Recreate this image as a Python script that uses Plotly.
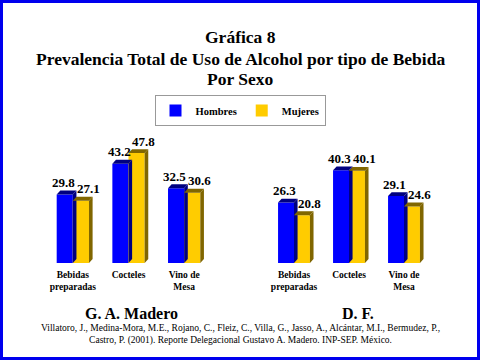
import plotly.graph_objects as go

categories = ["Bebidas<br>preparadas", "Cocteles", "Vino de<br>Mesa"]
madero_hombres = [29.8, 43.2, 32.5]
madero_mujeres = [27.1, 47.8, 30.6]
df_hombres = [26.3, 40.3, 29.1]
df_mujeres = [20.8, 40.1, 24.6]
panel_labels = ["G. A. Madero", "D. F."]
title_lines = ["Gráfica 8", "Prevalencia Total de Uso de Alcohol por tipo de Bebida", "Por Sexo"]

BLUE = "#0000FF"
BLUE_DARK = "#000080"
YEL = "#FFCC00"
YEL_DARK = "#806600"
FONT = "Liberation Serif"

W = 0.29      # bar width in category units
DX = 0.065    # 3D depth in x (category units)
DY = 1.7      # 3D depth in y (data units)

fig = go.Figure()
shapes = []
annotations = []

panels = [
    ("x", "y", madero_hombres, madero_mujeres),
    ("x2", "y2", df_hombres, df_mujeres),
]
for pi, (xa, ya, hom, muj) in enumerate(panels):
    idx = list(range(len(categories)))
    for name, vals, col, dark, off, lab_dx in [("Hombres", hom, BLUE, BLUE_DARK, -W, -0.02),
                                                ("Mujeres", muj, YEL, YEL_DARK, 0.0, 0.13)]:
        fig.add_trace(go.Bar(
            x=idx, y=vals, name=f"<b>{name}</b>", width=W, offset=off,
            marker=dict(color=col, line=dict(width=0)),
            showlegend=(pi == 0),
            xaxis=xa, yaxis=ya, hoverinfo="skip",
        ))
        for i, v in zip(idx, vals):
            x0 = i + off
            x1 = x0 + W
            shapes.append(dict(type="path", xref=xa, yref=ya, layer="above",
                               path=f"M{x1},0 L{x1+DX},{DY} L{x1+DX},{v+DY} L{x1},{v} Z",
                               fillcolor=dark, line=dict(width=0)))
            shapes.append(dict(type="path", xref=xa, yref=ya, layer="above",
                               path=f"M{x0},{v} L{x0+DX},{v+DY} L{x1+DX},{v+DY} L{x1},{v} Z",
                               fillcolor=dark, line=dict(width=0)))
            annotations.append(dict(text=f"<b>{v:.1f}</b>", x=x0 + W/2 + lab_dx, y=v,
                                    xref=xa, yref=ya, xanchor="center", yanchor="middle",
                                    yshift=12, showarrow=False,
                                    font=dict(family=FONT, size=13, color="black")))

ticktext_bold = [f"<b>{c}</b>" for c in categories]
ax_common = dict(showgrid=False, zeroline=False, showline=False, ticks="",
                 tickmode="array", tickvals=list(range(len(categories))),
                 ticktext=ticktext_bold, range=[-0.5, 2.5], ticklabelstandoff=4,
                 tickfont=dict(family=FONT, size=9.5, color="black"))
ay_common = dict(showgrid=False, zeroline=False, showline=False, showticklabels=False,
                 range=[0, 53.5])

for txt, yc in zip(title_lines, [37, 59, 79]):
    annotations.append(dict(text=f"<b>{txt}</b>", x=0.5, y=1-yc/360, xref="paper", yref="paper",
                            xanchor="center", yanchor="middle", showarrow=False,
                            font=dict(family=FONT, size=17.5, color="black")))
for txt, xc in zip(panel_labels, [131, 358]):
    annotations.append(dict(text=f"<b>{txt}</b>", x=xc/480, y=1-313/360, xref="paper", yref="paper",
                            xanchor="center", yanchor="middle", showarrow=False, borderpad=0,
                            font=dict(family=FONT, size=16, color="black")))
annotations.append(dict(
    text="Villatoro, J., Medina-Mora, M.E., Rojano, C., Fleiz, C., Villa, G., Jasso, A., Alcántar, M.I., Bermudez, P.,<br>"
         "Castro, P. (2001). Reporte Delegacional Gustavo A. Madero. INP-SEP. México.",
    x=0.5, y=1-334/360, xref="paper", yref="paper", xanchor="center", yanchor="middle",
    showarrow=False, borderpad=0, font=dict(family=FONT, size=9.5, color="black")))

fig.update_layout(
    width=480, height=360,
    margin=dict(l=0, r=0, t=0, b=0),
    paper_bgcolor="white", plot_bgcolor="white",
    barmode="overlay",
    legend=dict(orientation="h", x=0.5, xanchor="center", y=1-95/360, yanchor="top",
                bordercolor="#999999", borderwidth=1, bgcolor="white",
                font=dict(family=FONT, size=10.5, color="black"),
                itemwidth=30, tracegroupgap=0),
    xaxis=dict(domain=[45/480, 212/480], anchor="y", **ax_common),
    yaxis=dict(domain=[97/360, 220/360], anchor="x", **ay_common),
    xaxis2=dict(domain=[266.5/480, 431.5/480], anchor="y2", **ax_common),
    yaxis2=dict(domain=[97/360, 220/360], anchor="x2", **ay_common),
    shapes=shapes + [dict(type="rect", xref="paper", yref="paper", x0=0, x1=1, y0=0, y1=1,
                          line=dict(color="#0000EE", width=6), fillcolor="rgba(0,0,0,0)")],
    annotations=annotations,
)

fig.write_html("out.html", config={"displayModeBar": False},
               post_script="document.body.style.margin='0';")
